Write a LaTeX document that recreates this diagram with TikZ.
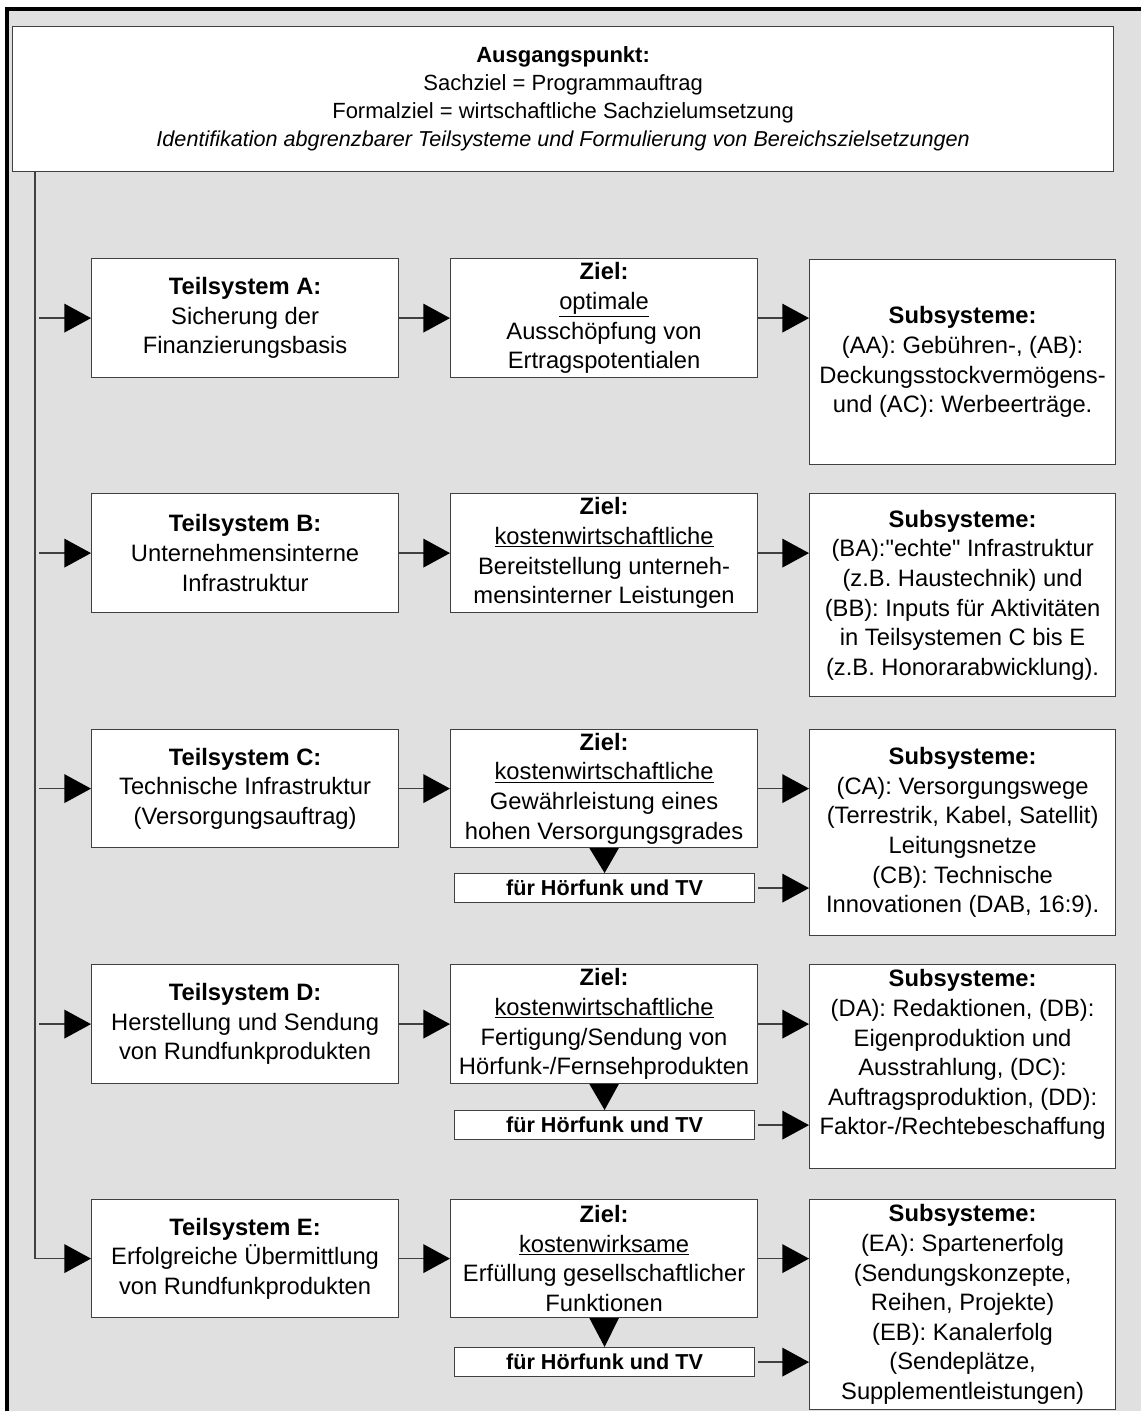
\documentclass[tikz,border=0pt]{standalone}
\usepackage{fontspec}
\setmainfont{Liberation Sans}[Ligatures=TeXOff]
\usetikzlibrary{arrows.meta}
\definecolor{bg}{HTML}{E0E0E0}
\definecolor{ln}{HTML}{404040}
\begin{document}
\begin{tikzpicture}[x=0.75pt,y=-0.75pt,
  txt/.style={align=center, inner sep=0pt, font=\fontsize{17.8}{22.2}\selectfont},
  box/.style={txt, draw=ln, line width=0.9pt, fill=white, anchor=north west},
  wh/.style 2 args={minimum width=#1*0.75pt, minimum height=#2*0.75pt},
  topbox/.style={box, font=\fontsize{16.5}{21}\selectfont},
  furbox/.style={box, font=\fontsize{16.2}{18}\selectfont\bfseries},
  arr/.style={draw=ln, line width=1pt, -{Triangle[length=20pt,width=21.5pt,color=black]}},
  tri/.style={fill=black}]
\useasboundingbox (0,0) rectangle (1141,1411);
\fill[white] (0,0) rectangle (1141,1411);
\fill[bg] (7,9) rectangle (1141,1411);
\draw[line width=3pt] (7,1411) -- (7,9) -- (1141,9);

\node[topbox, wh={1101}{145}] (top) at (12,26)
  {\textbf{Ausgangspunkt:}\\Sachziel = Programmauftrag\\Formalziel = wirtschaftliche Sachzielumsetzung\\
   \fontsize{16.2}{21}\selectfont\itshape Identifikation abgrenzbarer Teilsysteme und Formulierung von Bereichszielsetzungen};

% Teilsysteme
\node[box, wh={307}{119}] (tA) at (91,258) {\textbf{Teilsystem A:}\\Sicherung der\\Finanzierungsbasis};
\node[box, wh={307}{119}] (tB) at (91,493) {\textbf{Teilsystem B:}\\Unternehmensinterne\\Infrastruktur};
\node[box, wh={307}{118}] (tC) at (91,729) {\textbf{Teilsystem C:}\\Technische Infrastruktur\\(Versorgungsauftrag)};
\node[box, wh={307}{119}] (tD) at (91,964) {\textbf{Teilsystem D:}\\Herstellung und Sendung\\von Rundfunkprodukten};
\node[box, wh={307}{118}] (tE) at (91,1199) {\textbf{Teilsystem E:}\\Erfolgreiche Übermittlung\\von Rundfunkprodukten};

% Ziele
\node[box, wh={307}{119}] (zA) at (450,258) {\textbf{Ziel:}\\\underline{optimale}\\Ausschöpfung von\\Ertragspotentialen};
\node[box, wh={307}{119}] (zB) at (450,493) {\textbf{Ziel:}\\\underline{kostenwirtschaftliche}\\Bereitstellung unterneh-\\mensinterner Leistungen};
\node[box, wh={307}{118}] (zC) at (450,729) {\textbf{Ziel:}\\\underline{kostenwirtschaftliche}\\Gewährleistung eines\\hohen Versorgungsgrades};
\node[box, wh={307}{119}] (zD) at (450,964) {\textbf{Ziel:}\\\underline{kostenwirtschaftliche}\\Fertigung/Sendung von\\Hörfunk-/Fernsehprodukten};
\node[box, wh={307}{118}] (zE) at (450,1199) {\textbf{Ziel:}\\\underline{kostenwirksame}\\Erfüllung gesellschaftlicher\\Funktionen};

% für Hörfunk und TV
\node[furbox, wh={300}{29}] (fC) at (454,873) {für Hörfunk und TV};
\node[furbox, wh={300}{29}] (fD) at (454,1110) {für Hörfunk und TV};
\node[furbox, wh={300}{29}] (fE) at (454,1347) {für Hörfunk und TV};

% Subsysteme
\node[box, wh={306}{205}] (sA) at (809,259) {\textbf{Subsysteme:}\\(AA): Gebühren-, (AB):\\Deckungsstockvermögens-\\und (AC): Werbeerträge.};
\node[box, wh={306}{203}] (sB) at (809,493) {\textbf{Subsysteme:}\\(BA):"echte" Infrastruktur\\(z.B. Haustechnik) und\\(BB): Inputs für Aktivitäten\\in Teilsystemen C bis E\\(z.B. Honorarabwicklung).};
\node[box, wh={306}{206}] (sC) at (809,729) {\textbf{Subsysteme:}\\(CA): Versorgungswege\\(Terrestrik, Kabel, Satellit)\\Leitungsnetze\\(CB): Technische\\Innovationen (DAB, 16:9).};
\node[box, wh={306}{204}] (sD) at (809,964) {};
\node[txt, anchor=north] (sDt) at ([yshift=-4pt]sD.north) {\textbf{Subsysteme:}\\(DA): Redaktionen, (DB):\\Eigenproduktion und\\Ausstrahlung, (DC):\\Auftragsproduktion, (DD):\\Faktor-/Rechtebeschaffung};
\node[box, wh={306}{210}] (sE) at (809,1199) {\textbf{Subsysteme:}\\(EA): Spartenerfolg\\(Sendungskonzepte,\\Reihen, Projekte)\\(EB): Kanalerfolg\\(Sendeplätze,\\Supplementleistungen)};

% trunk
\coordinate (tr) at (35,171);
\coordinate (lx) at (39,0);
\draw[arr] (tr) |- (tE.west);
\foreach \n in {tA,tB,tC,tD}{\draw[arr] (\n.west -| lx) -- (\n.west);}

% row connectors
\foreach \r in {A,B,C,D,E}{
  \draw[arr] (t\r.east) -- (z\r.west);
  \draw[arr] (z\r.east) -- (z\r.east -| s\r.west);
}
\foreach \r in {C,D,E}{
  \fill[tri] ([xshift=-11pt]z\r.south) -- ([xshift=11pt]z\r.south) -- (f\r.north) -- cycle;
  \draw[arr] (f\r.east) ++(3,0) coordinate (fs\r) -- (fs\r -| s\r.west);
}
\end{tikzpicture}
\end{document}
